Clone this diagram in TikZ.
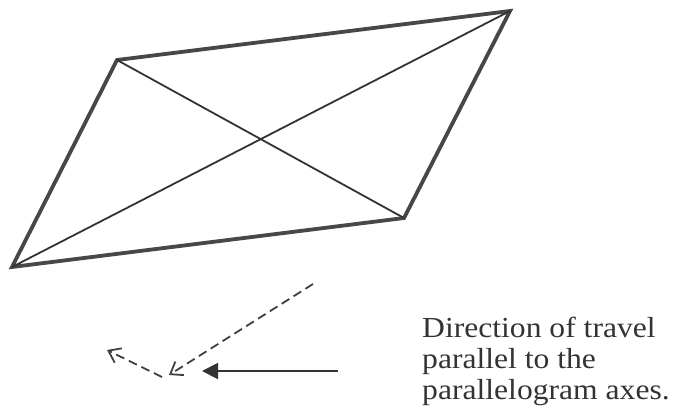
\documentclass[tikz,border=0pt]{standalone}
\usepackage{fontspec}
\setmainfont{Liberation Serif}
\newfontfamily\lblfont[FakeStretch=1.09]{Liberation Serif}
\usetikzlibrary{arrows.meta}
\begin{document}
\begin{tikzpicture}[x=1pt,y=-1pt,
  edge/.style={draw=black!72,line width=3.8pt,line join=miter},
  diag/.style={draw=black!80,line width=1.8pt},
  dashy/.style={draw=black!75,line width=1.8pt,dash pattern=on 9pt off 5pt,-{Straight Barb[length=11pt,width=16pt,line width=1.8pt]}},
  solidarr/.style={draw=black!80,line width=2pt,-{Triangle[length=16pt,width=16pt]}},
  lbl/.style={font=\lblfont\fontsize{29}{31}\selectfont,align=left,anchor=north west,inner sep=0pt,text=black!80}]
\useasboundingbox (0,0) rectangle (677,408);
\coordinate (tl) at (117,60);
\coordinate (tr) at (510,11);
\coordinate (br) at (404,218);
\coordinate (bl) at (12,267);
\path[edge] (tl) -- (tr) -- (br) -- (bl) -- cycle;
\path[diag] (tl) -- (br);
\path[diag] (tr) -- (bl);
\coordinate (d1s) at (313,284);
\coordinate (d1e) at (169,375);
\coordinate (d2s) at (162,377);
\coordinate (d2e) at (107,350);
\coordinate (ss) at (338,371);
\coordinate (se) at (202,371);
\path[dashy] (d1s) -- (d1e);
\path[dashy] (d2s) -- (d2e);
\path[solidarr] (ss) -- (se);
\node[lbl] (txt) at (422,317) {Direction of travel\\parallel to the\\parallelogram axes.};
\end{tikzpicture}
\end{document}
